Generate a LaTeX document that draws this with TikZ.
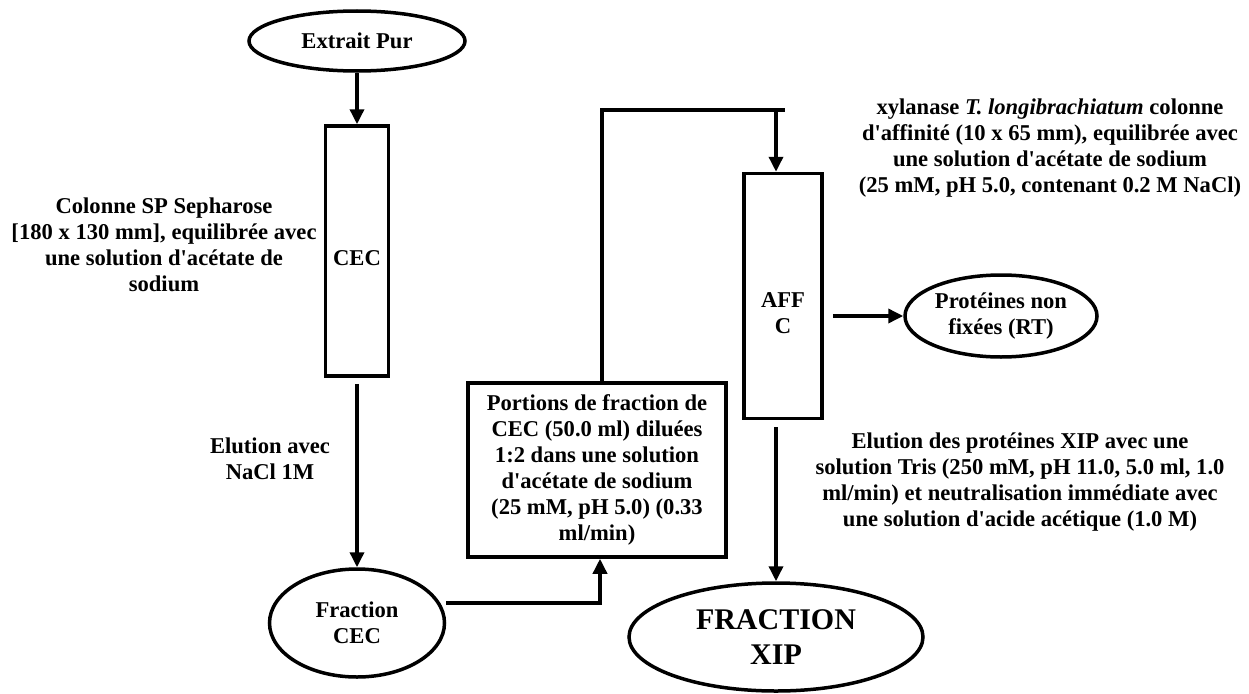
\documentclass[tikz,border=0pt]{standalone}
\usepackage{fontspec}
\setmainfont{Liberation Serif}
\usetikzlibrary{shapes.geometric,arrows.meta}
\newcommand{\ap}{\textquotesingle}
\begin{document}
\begin{tikzpicture}[x=1pt,y=-1pt,
  every node/.style={font=\bfseries\fontsize{22.6}{26}\selectfont, align=center, inner sep=0pt},
  ln/.style={line width=3.5pt},
  arr/.style={line width=3.5pt,-{Triangle[length=15pt,width=14pt]}},
  ell/.style={draw, ellipse, line width=3.5pt},
  col/.style={draw, rectangle, line width=3.5pt}]
\useasboundingbox (0,0) rectangle (1249,693);

% main nodes
\node[ell, minimum width=216pt, minimum height=60pt] (ext) at (357,41) {Extrait Pur};
\node[col, minimum width=63pt, minimum height=250pt] (cec) at (357,251) {};
\node (cect) at (357,258) {CEC};
\node[ell, minimum width=175pt, minimum height=108pt] (fcec) at (357,623) {Fraction\\CEC};
\node[col, minimum width=258pt, minimum height=174pt] (por) at (597,470)
  {Portions de fraction de\\CEC (50.0 ml) diluées\\1:2 dans une solution\\d\ap ac\'etate de sodium\\(25 mM, pH 5.0) (0.33\\ml/min)};
\node[col, minimum width=78pt, minimum height=245pt] (aff) at (783,296) {};
\node (afft) at (783,313) {AFF\\C};
\node[ell, minimum width=192pt, minimum height=82pt] (prot) at (1001,316) {Protéines non\\fixées (RT)};
\node[ell, minimum width=294pt, minimum height=108pt, font=\bfseries\fontsize{30}{34.5}\selectfont] (fxip) at (776,637) {FRACTION\\XIP};

% labels
\node (lsp) at (164,245) {Colonne SP Sepharose\\{[180 x 130 mm], equilibrée avec}\\une solution d\ap acétate de\\sodium};
\node (lel) at (270,459) {Elution avec\\NaCl 1M};
\node (lxy) at (1050,148) {xylanase \textit{T. longibrachiatum} colonne\\d\ap affinité (10 x 65 mm), equilibrée avec\\une solution d\ap acétate de sodium\\(25 mM, pH 5.0, contenant 0.2 M NaCl)};
\node (lelx) at (1020,482) {Elution des protéines XIP avec une\\solution Tris (250 mM, pH 11.0, 5.0 ml, 1.0\\ml/min) et neutralisation immédiate avec\\une solution d\ap acide acétique (1.0 M)};

% connectors
\draw[arr] (ext.south) -- (cec.north);
\draw[arr] ([yshift=-6pt]cec.south) -- (fcec.north);
\draw[arr] ([yshift=20pt]fcec.east) -| ([xshift=3pt]por.south);
\coordinate (tr) at (785,110);
\draw[ln] ([xshift=5pt]por.north) |- (tr);
\draw[arr] ([xshift=-9pt]tr) -- ([xshift=-7pt]aff.north);
\coordinate (ae) at ([xshift=9pt]aff.east);
\draw[arr] (ae |- prot.west) -- (prot.west);
\coordinate (as) at ([yshift=-7pt]aff.south);
\draw[arr] (as -| fxip.north) -- (fxip.north);
\end{tikzpicture}
\end{document}
